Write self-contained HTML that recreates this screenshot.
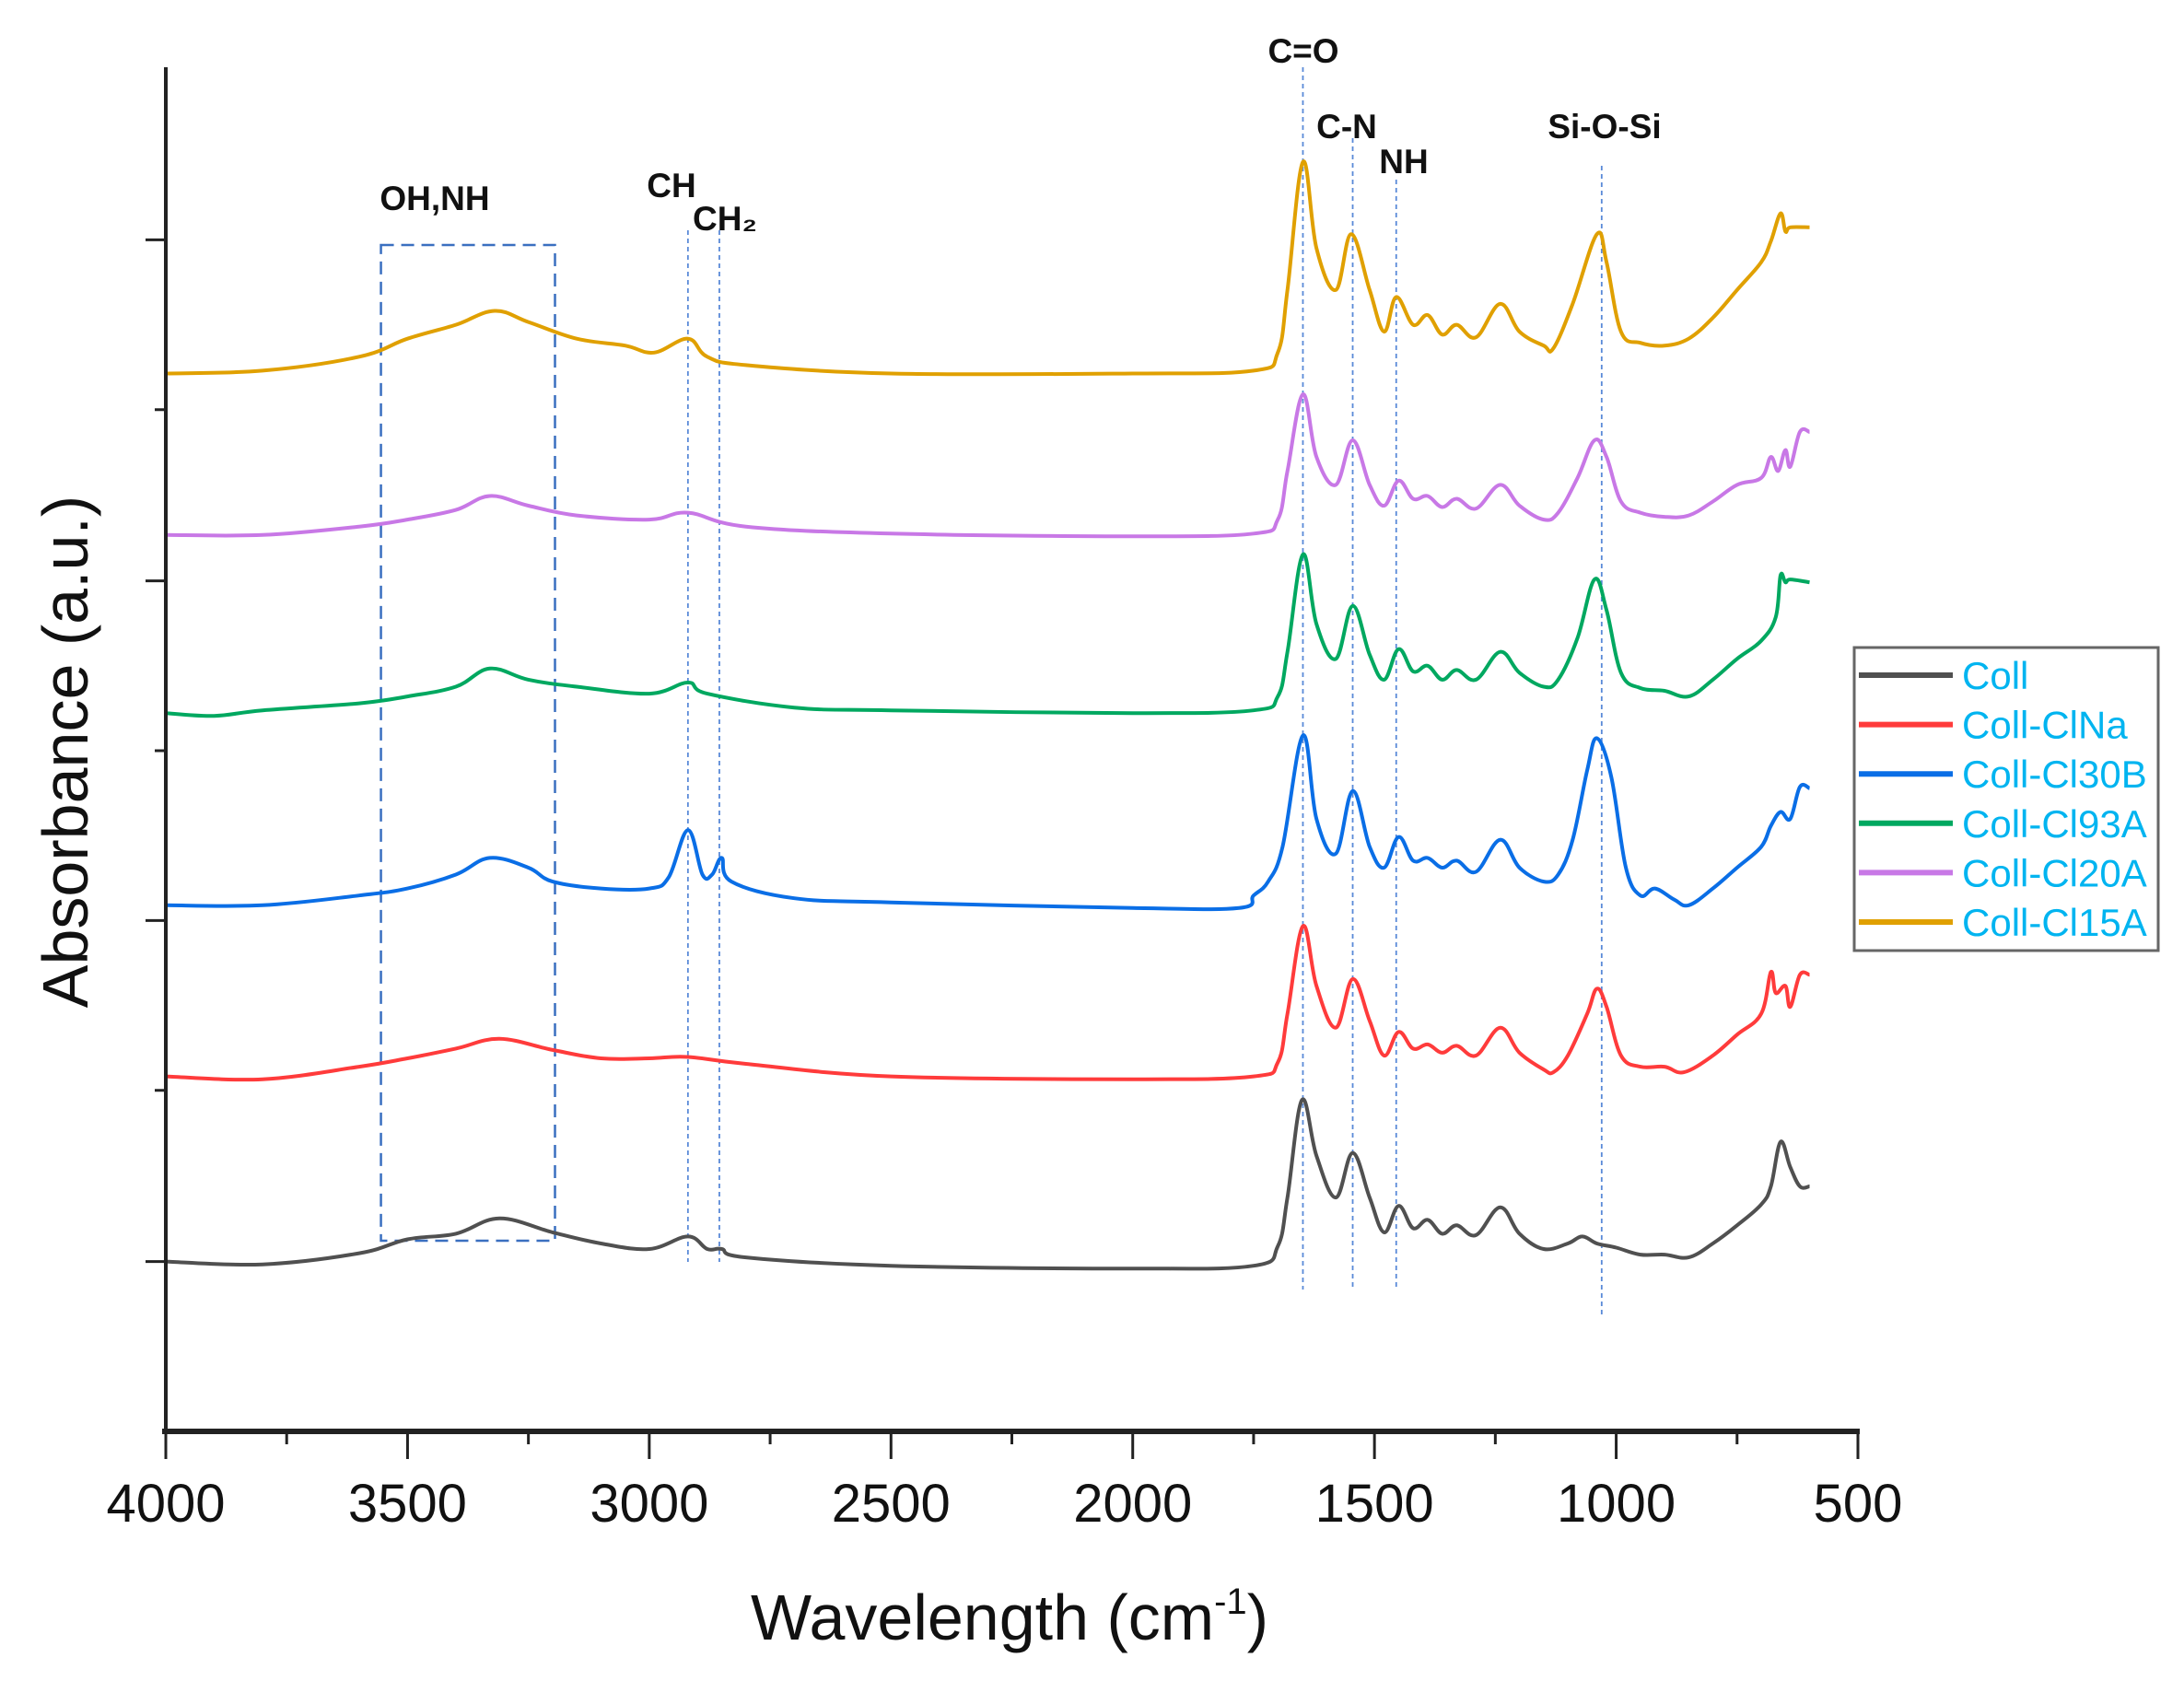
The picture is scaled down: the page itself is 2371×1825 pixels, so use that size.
<!DOCTYPE html>
<html><head><meta charset="utf-8"><style>
html,body{margin:0;padding:0;background:#fff;}
svg{display:block;font-family:"Liberation Sans",Arial,sans-serif;}
</style></head><body>
<svg id="chart" width="2371" height="1825" viewBox="0 0 2371 1825" xmlns="http://www.w3.org/2000/svg">
<g id="annotations"></g>
<g id="series"></g>
<g id="axes"></g>
<g id="legend"></g>
</svg>
<script>
const xTicks = [4000,3500,3000,2500,2000,1500,1000,500];
const yTicks = [0,122,245,367,489,611,734,856];
const seriesNames = ["Coll","Coll-ClNa","Coll-Cl30B","Coll-Cl93A","Coll-Cl20A","Coll-Cl15A"];
const seriesColors = ["#505050","#ff3b3b","#0a6ee6","#00a860","#c878e6","#e0a000"];
const wnColl = [4000,3800,3600,3500,3400,3310,3200,3100,3000,2920,2880,2850,2800,2500,2000,1750,1700,1680,1650,1620,1580,1545,1510,1480,1450,1420,1390,1360,1330,1290,1240,1200,1150,1100,1070,1040,1000,950,900,850,800,750,700,680,660,640,620,600];
const absColl = [122,120,128,138,142,153,143,135,131,140,131,131,125,119,117,119,133,168,238,198,168,200,168,143,162,146,152,142,148,141,161,142,131,135,140,135,132,127,127,125,135,148,163,176,208,190,176,176];
const wnNa = [4000,3800,3600,3500,3400,3310,3200,3100,3000,2920,2800,2500,2000,1750,1700,1680,1648,1620,1580,1545,1510,1480,1450,1420,1390,1360,1330,1290,1240,1200,1150,1130,1100,1060,1040,1020,990,950,900,860,800,750,700,680,670,650,640,620,600];
const absNa = [255,253,262,268,275,282,274,268,268,269,264,255,253,255,265,300,363,320,290,325,295,270,287,275,278,272,277,270,290,272,260,258,270,300,318,305,270,262,262,258,270,285,300,330,315,320,305,328,328];
const wn30B = [4000,3800,3600,3500,3400,3330,3250,3200,3100,3000,2960,2920,2890,2870,2850,2830,2700,2500,2000,1780,1750,1720,1690,1648,1620,1580,1545,1510,1480,1450,1420,1390,1360,1330,1290,1240,1200,1150,1120,1090,1060,1040,1010,980,950,920,880,850,800,750,700,680,660,640,620,600];
const abs30B = [378,378,385,390,400,412,405,395,390,390,398,432,400,400,412,395,383,380,376,376,385,395,420,500,440,415,460,420,405,427,410,412,405,410,402,425,405,395,400,425,475,498,470,405,385,390,382,378,390,405,420,435,445,440,463,462];
const wn93A = [4000,3900,3800,3600,3500,3400,3330,3250,3150,3000,2920,2880,2700,2500,2000,1750,1700,1680,1648,1620,1580,1545,1510,1480,1450,1420,1390,1360,1330,1290,1240,1200,1150,1120,1080,1045,1020,990,950,900,850,800,750,700,670,660,650,640,600];
const abs93A = [516,514,518,523,528,535,548,540,535,530,538,530,520,518,516,518,528,560,630,580,555,593,558,540,562,546,550,540,547,540,560,545,535,540,570,612,590,545,534,532,528,540,555,568,585,615,610,612,610];
const wn20A = [4000,3800,3600,3500,3400,3330,3250,3150,3000,2920,2800,2500,2000,1750,1700,1680,1648,1620,1580,1545,1510,1480,1450,1420,1390,1360,1330,1290,1240,1200,1150,1120,1080,1045,1020,990,950,900,850,800,750,700,680,665,650,640,620,600];
const abs20A = [644,644,650,655,662,672,665,658,655,660,650,645,643,645,655,690,745,700,680,712,680,665,683,670,672,664,670,663,680,665,655,660,685,712,700,668,660,657,658,668,680,685,700,690,705,693,718,718];
const wn15A = [4000,3800,3600,3500,3400,3320,3250,3150,3050,2990,2920,2880,2800,2500,2000,1750,1700,1680,1648,1620,1580,1548,1510,1480,1455,1420,1390,1360,1330,1290,1240,1200,1150,1130,1090,1040,1020,990,950,900,850,800,750,700,680,660,650,640,600];
const abs15A = [760,762,772,785,795,805,797,785,780,775,785,772,766,760,760,762,775,820,912,850,820,860,820,790,815,795,802,788,795,786,810,790,780,778,810,860,840,790,782,780,785,800,820,840,855,875,862,865,865];
const peakWn = [1648,1545,1455,1030,2920,2855];
const peakLabels = ["C=O","C-N","NH","Si-O-Si","CH","CH\u2082"];

const NS="http://www.w3.org/2000/svg";
const X0=180,X1=2017,Y0=1554,Y1=73;
function sx(w){return X0+(4000-w)/3500*(X1-X0);}
function sy(v){return Y0-v/980*(Y0-Y1);}
function mk(tag,attrs,parent){const e=document.createElementNS(NS,tag);for(const k in attrs)e.setAttribute(k,attrs[k]);parent.appendChild(e);return e;}
function smoothPath(pts){
  let d='M'+pts[0][0].toFixed(1)+','+pts[0][1].toFixed(1);
  for(let i=0;i<pts.length-1;i++){
    const p0=pts[Math.max(0,i-1)],p1=pts[i],p2=pts[i+1],p3=pts[Math.min(pts.length-1,i+2)];
    const t=0.18;
    const c1=[p1[0]+(p2[0]-p0[0])*t,p1[1]+(p2[1]-p0[1])*t];
    const c2=[p2[0]-(p3[0]-p1[0])*t,p2[1]-(p3[1]-p1[1])*t];
    d+=' C'+c1[0].toFixed(1)+','+c1[1].toFixed(1)+' '+c2[0].toFixed(1)+','+c2[1].toFixed(1)+' '+p2[0].toFixed(1)+','+p2[1].toFixed(1);
  }
  return d;
}

const ann=document.getElementById('annotations');
const box=mk('rect',{x:sx(3555),y:266,width:sx(3195)-sx(3555),height:1347-266,fill:'none',stroke:'#3a6fc0','stroke-width':2.5,'stroke-dasharray':'14,8'},ann);


const lineTops=[73,150,195,180,250,250];
const lineBots=[1400,1400,1400,1430,1370,1370];
peakWn.forEach((w,i)=>{
  const l=mk('line',{x1:sx(w),x2:sx(w),y1:lineTops[i],y2:lineBots[i],stroke:'#5a8ad8','stroke-width':1.8,'stroke-dasharray':'5,4'},ann);
  
  
});
const labs=[[1415,68,'C=O'],[1462,150,'C-N'],[1524,188,'NH'],[1742,150,'Si-O-Si'],[729,214,'CH'],[787,250,'CH\u2082'],[472,228,'OH,NH']];
labs.forEach((a,i)=>{
  const t=mk('text',{x:a[0],y:a[1],'text-anchor':'middle','font-size':37,'font-weight':'bold',fill:'#111'},ann);
  t.textContent=a[2];
  
  
});

const wns=[wnColl,wnNa,wn30B,wn93A,wn20A,wn15A];
const abss=[absColl,absNa,abs30B,abs93A,abs20A,abs15A];
const sg=document.getElementById('series');
for(let s=5;s>=0;s--){
  const pts=wns[s].map((w,i)=>[sx(w),sy(abss[s][i])]);
  const p=mk('path',{d:smoothPath(pts),fill:'none',stroke:seriesColors[s],'stroke-width':4,'stroke-linejoin':'round'},sg);
  
  
}

const ax=document.getElementById('axes');
const xa=mk('line',{x1:X0-4,x2:X1+2,y1:Y0,y2:Y0,stroke:'#222','stroke-width':6},ax);


const ya=mk('line',{x1:X0,x2:X0,y1:Y1,y2:Y0,stroke:'#222','stroke-width':4},ax);


for(let w=4000;w>=500;w-=250){
  const major=w%500===0;
  const t=mk('line',{x1:sx(w),x2:sx(w),y1:Y0,y2:Y0+(major?30:14),stroke:'#222','stroke-width':3},ax);
  
  
}
xTicks.forEach(w=>{
  const t=mk('text',{x:sx(w),y:1652,'text-anchor':'middle','font-size':58,fill:'#111'},ax);
  t.textContent=w;
  
  
});
yTicks.forEach((v,i)=>{
  if(i===0)return;
  const major=i%2===1;
  const t=mk('line',{x1:X0,x2:X0-(major?22:12),y1:sy(v),y2:sy(v),stroke:'#222','stroke-width':3},ax);
  
  
});
const xt=mk('text',{x:1096,y:1780,'text-anchor':'middle','font-size':70,fill:'#111'},ax);
xt.innerHTML='Wavelength (cm<tspan dy="-28" font-size="40">-1</tspan><tspan dy="28">)</tspan>';


const yt=mk('text',{x:0,y:0,'text-anchor':'middle','font-size':70,fill:'#111',transform:'translate(95,816) rotate(-90)'},ax);
yt.textContent='Absorbance (a.u.)';



const lg=document.getElementById('legend');
const lb=mk('rect',{x:2013,y:703,width:330,height:329,fill:'#fff',stroke:'#666','stroke-width':3},lg);


seriesNames.forEach((n,i)=>{
  const y=733+i*53.6;
  const l=mk('line',{x1:2018,x2:2120,y1:y,y2:y,stroke:seriesColors[i],'stroke-width':6},lg);
  
  
  const t=mk('text',{x:2130,y:y+15,'font-size':42,fill:'#00b4f0'},lg);
  t.textContent=n;
  
  
});
</script>
</body></html>
